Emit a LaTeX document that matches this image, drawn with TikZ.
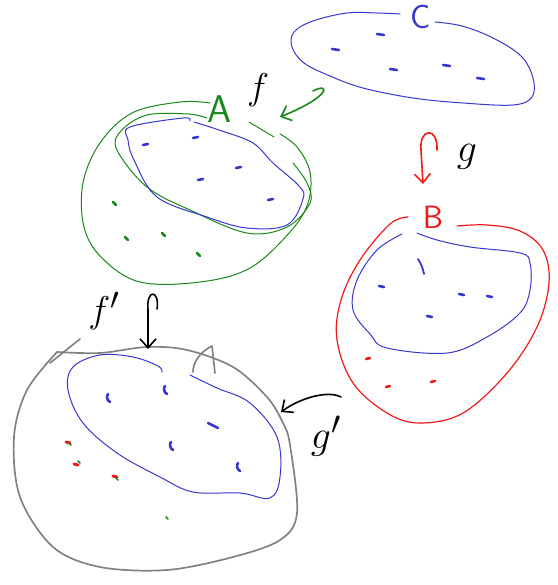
\documentclass[tikz,border=0pt]{standalone}
\usepackage{amsmath}
\usetikzlibrary{arrows.meta}

\definecolor{penblue}{RGB}{55,55,205}
\definecolor{pengreen}{RGB}{25,135,25}
\definecolor{penred}{RGB}{240,25,25}
\definecolor{pengray}{RGB}{130,130,130}

\tikzset{
  pen/.style={line cap=round, line join=round},
  bluepen/.style={pen, draw=penblue, line width=1pt},
  greenpen/.style={pen, draw=pengreen, line width=1pt},
  redpen/.style={pen, draw=penred, line width=1.2pt},
  graypen/.style={pen, draw=pengray, line width=1.7pt},
  speck/.style={pen, line width=2.6pt},
  hand/.style={inner sep=0pt, font=\sffamily\Huge},
  mapname/.style={inner sep=0pt, font=\Huge},
  maparrow/.style={pen, line width=1.6pt, -{Straight Barb[length=9pt,width=16pt]}}
}

\begin{document}
\begin{tikzpicture}[x=1pt, y=-1pt]
    \useasboundingbox (0,0) rectangle (557,585);

    % set C (top right)
    \draw[bluepen] plot[smooth, tension=0.6] coordinates {(435,22) (462,26) (493,38) (521,56) (533,78) (532,97) (513,105) (463,103) (413,98) (363,88) (330,76) (304,63) (292,47) (294,32) (313,21) (347,13) (377,13) (400,14)};
    \node[hand, text=penblue] (labC) at (421,17) {\scalebox{1.35}{C}};
    \foreach \x/\y in {377/34, 332/49, 390/69, 443/65, 477/78}
        \draw[speck, penblue] (\x,\y) -- ++(7,1);

    % set A (top left)
    \draw[greenpen] plot[smooth, tension=0.6] coordinates {(210,103) (180,102) (132,113) (100,143) (83,183) (84,227) (102,258) (140,282) (200,282) (250,268) (290,232) (308,203) (310,172) (297,147) (280,134)};
    \draw[greenpen] (249,122) -- (274,137);
    \draw[greenpen] plot[smooth, tension=0.6] coordinates {(207,118) (188,114) (147,115) (121,131) (117,150) (147,187) (190,210) (247,233) (287,227) (310,203) (307,183) (293,163)};
    \draw[bluepen] plot[smooth, tension=0.6] coordinates {(190,121) (183,118) (130,127) (128,140) (134,160) (157,197) (207,217) (247,228) (287,225) (303,199) (299,186) (273,163) (253,143) (222,131) (194,122)};
    \node[hand, text=pengreen] (labA) at (220,109) {\scalebox{1.55}{A}};
    \foreach \x/\y in {143/145, 193/138, 236/168, 198/180, 268/200}
        \draw[speck, penblue] (\x,\y) -- ++(5,-1);
    \foreach \x/\y in {113/202, 125/237, 162/233, 197/253}
        \draw[speck, pengreen] (\x,\y) -- ++(3,3);

    % set B (right)
    \draw[redpen] plot[smooth, tension=0.6] coordinates {(408,217) (390,224) (360,260) (341,300) (337,340) (353,383) (387,413) (420,423) (463,413) (507,373) (537,327) (549,283) (543,250) (520,231) (487,225) (457,226)};
    \draw[bluepen] plot[smooth, tension=0.6] coordinates {(402,234) (377,250) (357,280) (353,310) (370,334) (387,348) (447,353) (487,337) (520,313) (530,290) (530,263) (520,253) (470,247) (437,240) (417,233)};
    \node[hand, text=penred] (labB) at (433,217) {\scalebox{1.3}{B}};
    \draw[bluepen, line width=1.8pt] (418,259) to[bend left=10] (424,274);
    \foreach \x/\y in {379/286, 459/294, 487/296, 427/316}
        \draw[speck, penblue] (\x,\y) -- ++(5,1);
    \foreach \x/\y in {366/359, 386/387, 431/382}
        \draw[speck, penred] (\x,\y) -- ++(4,-1);

    % image of A and B (bottom left)
    \draw[graypen] plot[smooth, tension=0.55] coordinates {(57,352) (100,353) (147,347) (187,350) (233,367) (267,397) (283,423) (290,445) (297,513) (280,540) (233,557) (167,570) (100,567) (53,547) (20,497) (14,437) (27,390) (57,352)};
    \draw[graypen] (50,363) -- (80,339);
    \draw[graypen] (193,372) .. controls (193,362) and (200,352) .. (212,346) -- (215,373);
    \draw[bluepen] plot[smooth, tension=0.6] coordinates {(162,372) (158,366) (133,357) (100,355) (73,367) (68,390) (83,423) (117,453) (160,477) (193,492) (240,493) (270,498) (280,477) (277,437) (250,403) (217,388) (190,375)};
    \foreach \x/\y in {108/394, 165/386, 171/442, 238/463}
        \draw[speck, penblue] (\x,\y) to[bend right=50] ++(2,8);
    \draw[speck, penblue] (208,423) -- (218,428);
    \foreach \x/\y in {66/442, 74/464, 113/476}
        \draw[speck, penred, line width=3pt] (\x,\y) -- ++(4,1);
    \foreach \x/\y in {69/443, 78/461, 116/478, 166/517}
        \draw[speck, pengreen, line width=1.6pt] (\x,\y) -- ++(2,2);

    % map names
    \node[mapname] (labf) at (258,90) {\scalebox{1.5}{$f$}};
    \node[mapname] (labg) at (467,157) {\scalebox{1.6}{$g$}};
    \node[mapname] (labfp) at (104,311) {\scalebox{1.5}{$f'$}};
    \node[mapname] (labgp) at (326,436) {\scalebox{1.6}{$g'$}};

    % arrow ends
    \coordinate (fTail) at (313,91);
    \coordinate (fHead) at (280,117);
    \coordinate (gTail) at (437,150);
    \coordinate (gHead) at (423,184);
    \coordinate (fpTail) at (157,309);
    \coordinate (fpHead) at (148,349);
    \coordinate (gpTail) at (341,397);
    \coordinate (gpHead) at (281,412);

    % maps
    \draw[maparrow, draw=pengreen] (fTail) .. controls (330,82) and (332,96) .. (fHead);
    \draw[maparrow, draw=penred] (gTail) .. controls (438,126) and (419,128) .. (421,150) -- (gHead);
    \draw[maparrow, draw=black] (fpTail) .. controls (160,290) and (146,288) .. (148,310) -- (fpHead);
    \draw[maparrow, draw=black] (gpTail) .. controls (328,390) and (300,398) .. (gpHead);
\end{tikzpicture}
\end{document}
